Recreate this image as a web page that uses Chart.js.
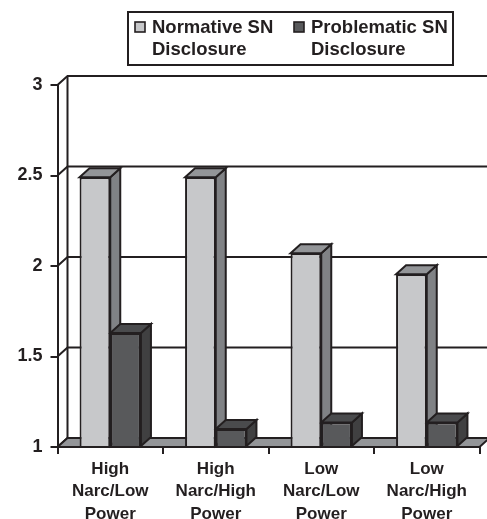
<!DOCTYPE html>
<html><head><meta charset="utf-8">
<style>html,body{margin:0;padding:0;background:#fff}canvas{display:block}</style>
<script src="https://cdn.jsdelivr.net/npm/chart.js@4/dist/chart.umd.min.js"></script>
</head><body><canvas id="c" width="487" height="519"></canvas>
<script>
const categories = [["High","Narc/Low","Power"],["High","Narc/High","Power"],["Low","Narc/Low","Power"],["Low","Narc/High","Power"]];
const normative = [2.49,2.49,2.07,1.955];
const problematic = [1.63,1.10,1.135,1.135];
const seriesNames = [["Normative SN","Disclosure"],["Problematic SN","Disclosure"]];
const INK="#231f20", FAMILY='"Liberation Sans", Arial, sans-serif';
const DX=10, DY=9;
const faces=[{top:"#939598",side:"#808285"},{top:"#4a4b4d",side:"#404041"}];
function poly(ctx,pts,fill,lw){ctx.beginPath();pts.forEach((p,i)=>i?ctx.lineTo(p[0],p[1]):ctx.moveTo(p[0],p[1]));ctx.closePath();
  if(fill){ctx.fillStyle=fill;ctx.fill();}ctx.strokeStyle=INK;ctx.lineWidth=lw;ctx.stroke();}
const depth={id:"depth",beforeDatasetsDraw(chart){
  const ctx=chart.ctx,a=chart.chartArea,y=chart.scales.y;
  ctx.save();ctx.lineJoin="miter";
  ctx.strokeStyle=INK;ctx.lineWidth=2;
  y.ticks.forEach(t=>{const p=y.getPixelForValue(t.value);
    ctx.beginPath();ctx.moveTo(a.left,p);ctx.lineTo(a.left+DX,p-DY);
    if(t.value>y.min){ctx.lineTo(chart.width+2,p-DY);}
    ctx.stroke();});
  ctx.beginPath();ctx.moveTo(a.left+DX,a.top-DY);ctx.lineTo(a.left+DX,a.bottom-DY);ctx.stroke();
  poly(ctx,[[a.left,a.bottom],[a.right,a.bottom],[a.right+DX,a.bottom-DY],[a.left+DX,a.bottom-DY]],"#939598",2);
  chart.data.datasets.forEach((ds,i)=>{chart.getDatasetMeta(i).data.forEach(b=>{
    const l=b.x-b.width/2,r=b.x+b.width/2,t=b.y,bo=b.base;
    poly(ctx,[[r,t],[r+DX,t-DY],[r+DX,bo-DY],[r,bo]],faces[i].side,2);
    poly(ctx,[[l,t],[l+DX,t-DY],[r+DX,t-DY],[r,t]],faces[i].top,2);
  });});
  ctx.restore();
},afterDraw(chart){
  const ctx=chart.ctx;ctx.save();
  ctx.strokeStyle=INK;ctx.lineWidth=2;ctx.strokeRect(128,12,325,53);
  ctx.font='bold 18.5px '+FAMILY;ctx.fillStyle=INK;ctx.textBaseline="middle";ctx.textAlign="left";
  const swatch=[135,294],text=[152,311],colors=[chart.data.datasets[0].backgroundColor,chart.data.datasets[1].backgroundColor];
  seriesNames.forEach((lines,i)=>{
    ctx.fillStyle=colors[i];ctx.fillRect(swatch[i],22,10,10);ctx.lineWidth=1.6;ctx.strokeRect(swatch[i],22,10,10);
    ctx.fillStyle=INK;lines.forEach((s,j)=>ctx.fillText(s,text[i],27.5+j*22));
  });
  ctx.restore();
}};
new Chart(document.getElementById("c"),{type:"bar",
 data:{labels:categories,datasets:[
  {label:seriesNames[0].join(" "),data:normative,base:1,backgroundColor:"#c7c8ca",borderColor:INK,borderWidth:2},
  {label:seriesNames[1].join(" "),data:problematic,base:1,backgroundColor:"#58595b",borderColor:INK,borderWidth:2}]},
 plugins:[depth],
 options:{responsive:false,animation:false,devicePixelRatio:1,
  layout:{padding:{top:85,right:7.5,left:0,bottom:0}},
  plugins:{legend:{display:false},title:{display:false},tooltip:{enabled:false}},
  datasets:{bar:{categoryPercentage:0.582,barPercentage:1}},
  scales:{
   x:{afterFit(s){s.height=72;},grid:{drawOnChartArea:false,color:INK,lineWidth:2,tickLength:7},
      border:{color:INK,width:2},
      ticks:{color:INK,font:{family:FAMILY,size:17,weight:"bold",lineHeight:1.32},padding:4,maxRotation:0,autoSkip:false}},
   y:{min:1,max:3,afterFit(s){s.width=57.5;},grid:{drawOnChartArea:false,color:INK,lineWidth:2,tickLength:7},
      border:{color:INK,width:2},
      ticks:{stepSize:0.5,color:INK,callback:v=>String(v),font:{family:FAMILY,size:18,weight:"bold"},padding:8}}
  }}});
</script></body></html>
